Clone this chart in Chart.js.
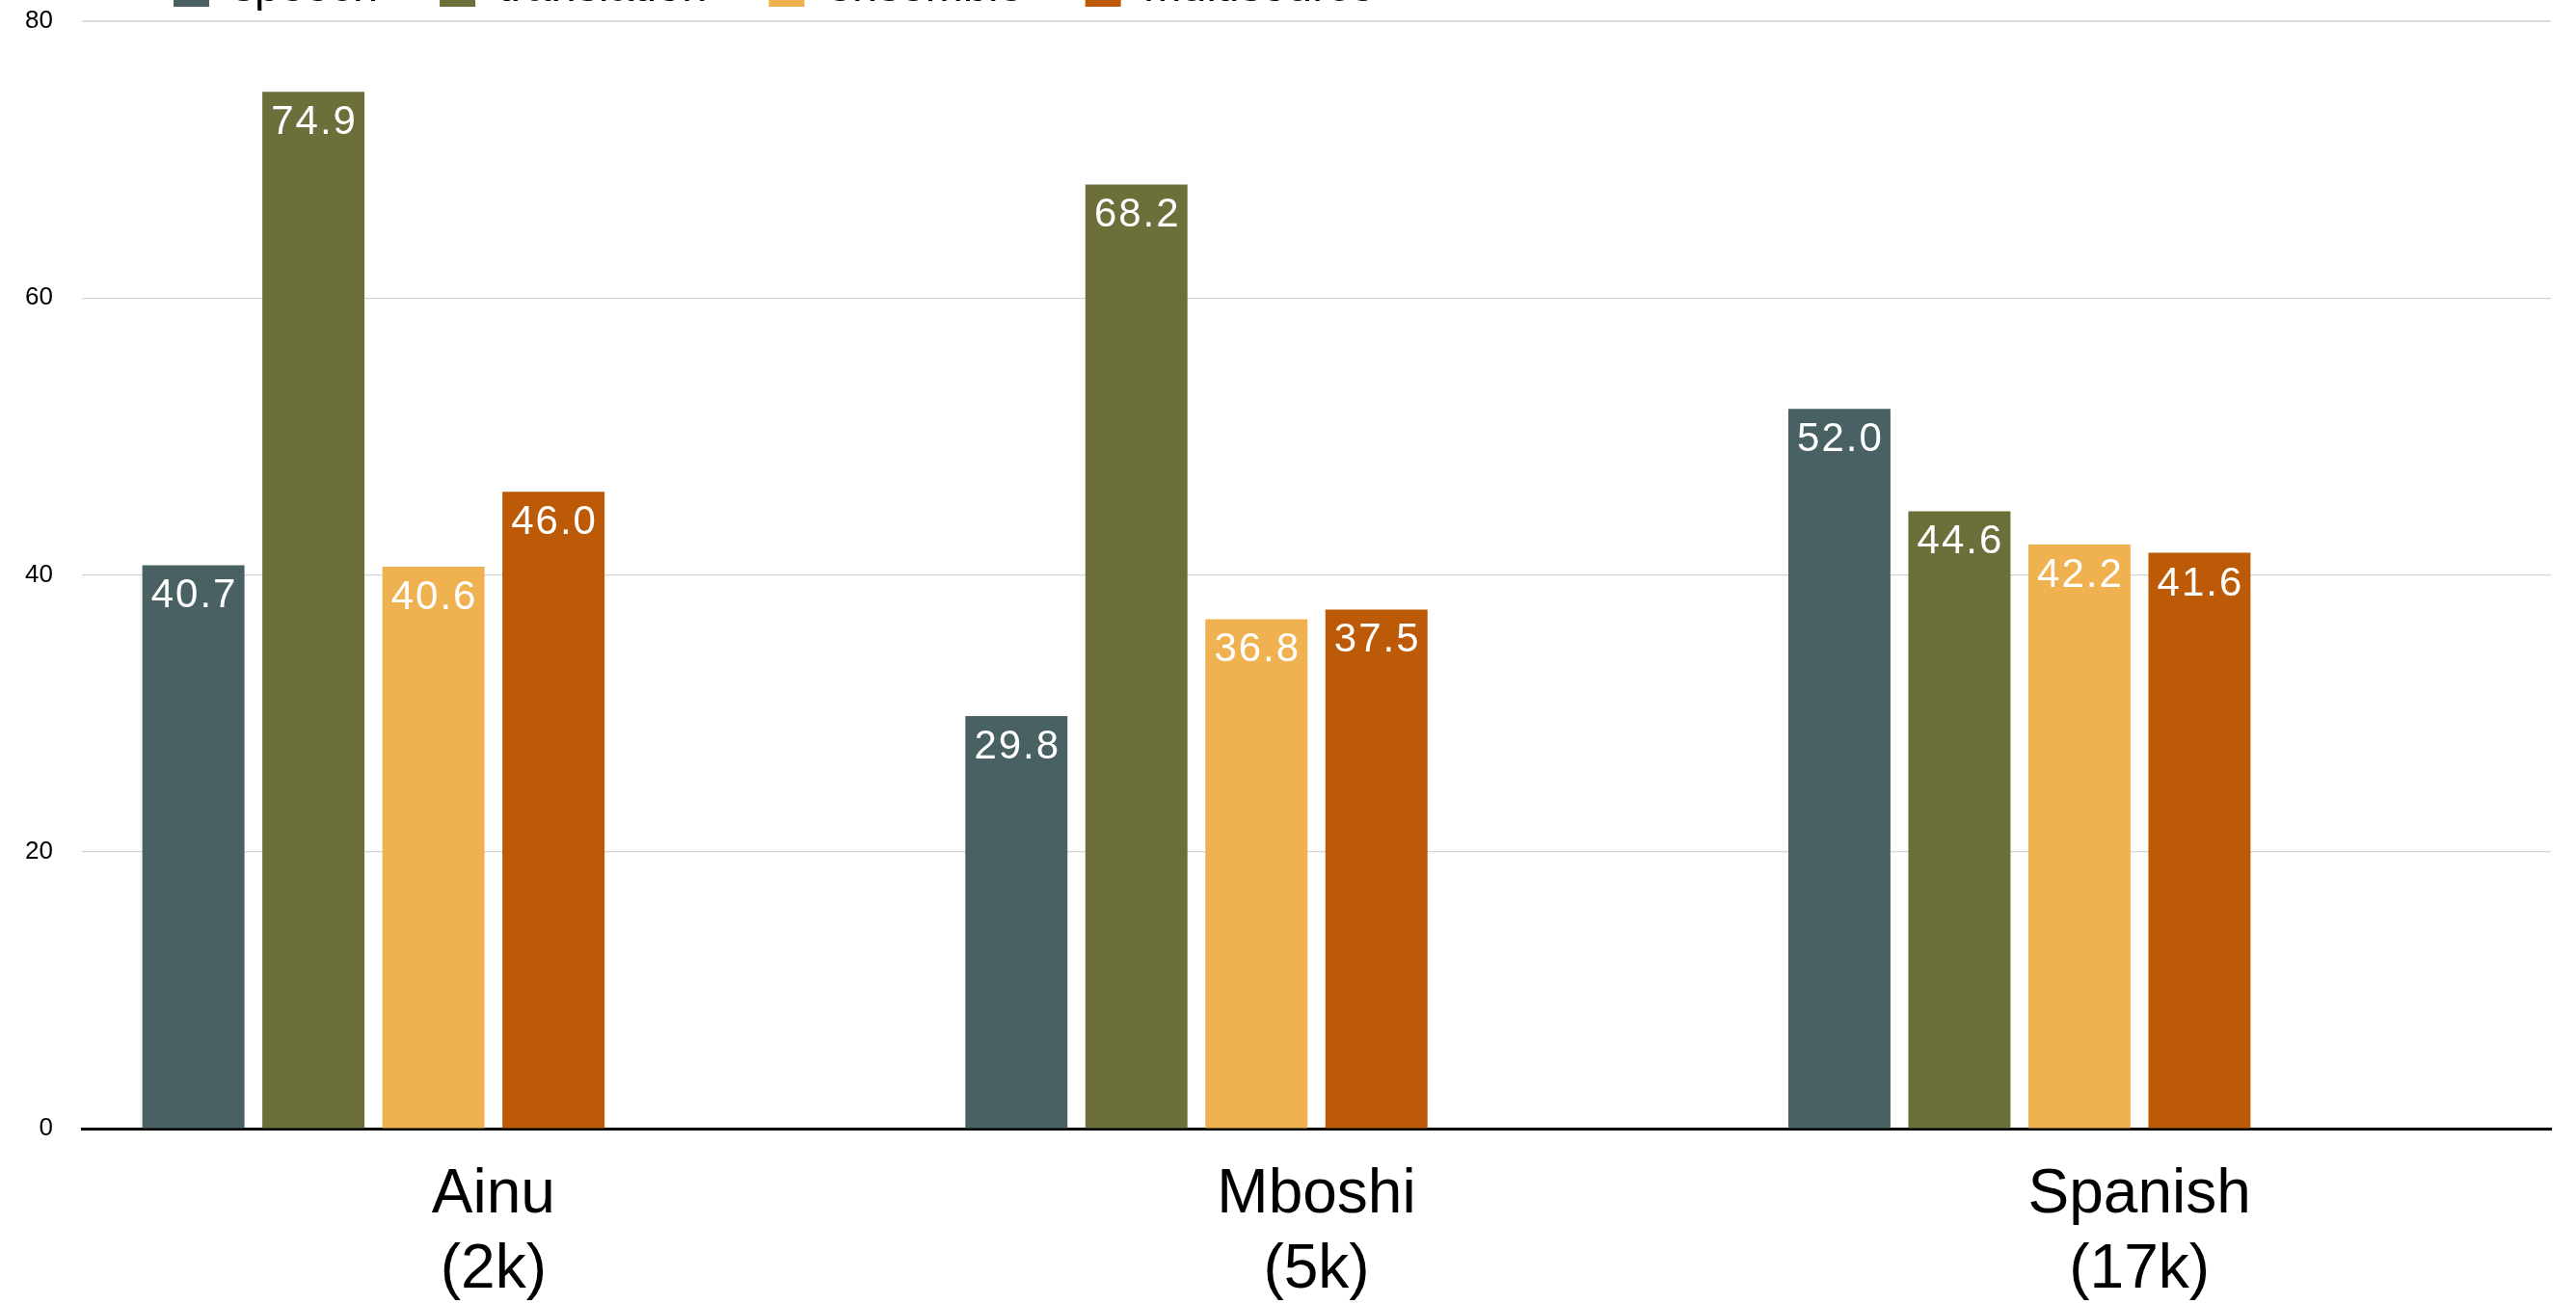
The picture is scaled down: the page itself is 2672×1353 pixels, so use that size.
<!DOCTYPE html>
<html>
<head>
<meta charset="utf-8">
<script src="https://cdn.jsdelivr.net/npm/chart.js@4.4.1/dist/chart.umd.min.js"></script>
<style>
    html, body { margin: 0; padding: 0; background: #fff; overflow: hidden; }
    #wrap { position: relative; width: 2672px; height: 1353px; overflow: hidden; }
    #chart { position: absolute; left: 0; top: -100px; }
</style>
</head>
<body>
<div id="wrap"><canvas id="chart" width="2672" height="1453"></canvas></div>
<script>
const categories = [['Ainu', '(2k)'], ['Mboshi', '(5k)'], ['Spanish', '(17k)']];
const seriesNames = ['speech', 'translation', 'ensemble', 'multisource'];
const speech = [40.7, 29.8, 52.0];
const translation = [74.9, 68.2, 44.6];
const ensemble = [40.6, 36.8, 42.2];
const multisource = [46.0, 37.5, 41.6];
const yTicks = [0, 20, 40, 60, 80];
const colors = ['#4a6163', '#6c6f3a', '#f0b250', '#bc5a08'];

const FONT = '"Liberation Sans", Arial, Helvetica, sans-serif';

// white value labels inside the top of each bar
const barValues = {
    id: 'barValues',
    afterDatasetsDraw(chart) {
        const ctx = chart.ctx;
        ctx.save();
        ctx.font = '42px ' + FONT;
        ctx.fillStyle = '#ffffff';
        ctx.textAlign = 'center';
        ctx.textBaseline = 'alphabetic';
        if ('letterSpacing' in ctx) ctx.letterSpacing = '2px';
        chart.data.datasets.forEach((ds, i) => {
            if (i >= seriesNames.length) return;
            const meta = chart.getDatasetMeta(i);
            meta.data.forEach((bar, j) => {
                const v = ds.data[j];
                if (v == null) return;
                ctx.fillText(v.toFixed(1), bar.x + 1, bar.y + 44);
            });
        });
        ctx.restore();
    }
};

// legend sits left of centre and partly above the visible page
const legendShift = {
    id: 'legendShift',
    afterLayout(chart) {
        const lg = chart.legend;
        if (lg) lg.left = 116;
    }
};

const seriesData = [speech, translation, ensemble, multisource];
const datasets = seriesData.map((d, i) => ({
    label: seriesNames[i],
    data: d,
    backgroundColor: colors[i],
    borderWidth: 0
}));
// two empty slots so the four bars sit on the left of each category
datasets.push({ label: '', data: [null, null, null], backgroundColor: 'transparent' });
datasets.push({ label: '', data: [null, null, null], backgroundColor: 'transparent' });

new Chart(document.getElementById('chart'), {
    type: 'bar',
    data: { labels: categories, datasets: datasets },
    plugins: [barValues, legendShift],
    options: {
        responsive: false,
        animation: false,
        categoryPercentage: 0.875,
        barPercentage: 0.851,
        layout: { padding: { left: 0, right: 26, top: 1, bottom: 0 } },
        plugins: {
            tooltip: { enabled: false },
            legend: {
                display: true,
                position: 'top',
                align: 'start',
                labels: {
                    font: { family: FONT, size: 47 },
                    color: '#000',
                    boxWidth: 37,
                    boxHeight: 37,
                    padding: 64,
                    filter: item => item.datasetIndex < seriesNames.length
                }
            }
        },
        scales: {
            x: {
                grid: { display: false, drawTicks: false },
                border: { display: true, color: '#000', width: 3 },
                ticks: {
                    color: '#000',
                    padding: 30,
                    font: { family: FONT, size: 64, lineHeight: 1.22 }
                },
                afterFit: s => { s.height = 182; }
            },
            y: {
                min: 0,
                max: 80,
                afterBuildTicks: s => { s.ticks = yTicks.map(v => ({ value: v })); },
                grid: {
                    drawTicks: false,
                    color: ctx => ctx.tick && ctx.tick.value === 80 ? '#dcdcdc' : '#d4d4d4',
                    lineWidth: ctx => ctx.tick && ctx.tick.value === 80 ? 2 : 1.2
                },
                border: { display: false },
                ticks: {
                    color: '#000',
                    padding: 30,
                    font: { family: FONT, size: 26 }
                },
                afterFit: s => { s.width = 85; }
            }
        }
    }
});
</script>
</body>
</html>
